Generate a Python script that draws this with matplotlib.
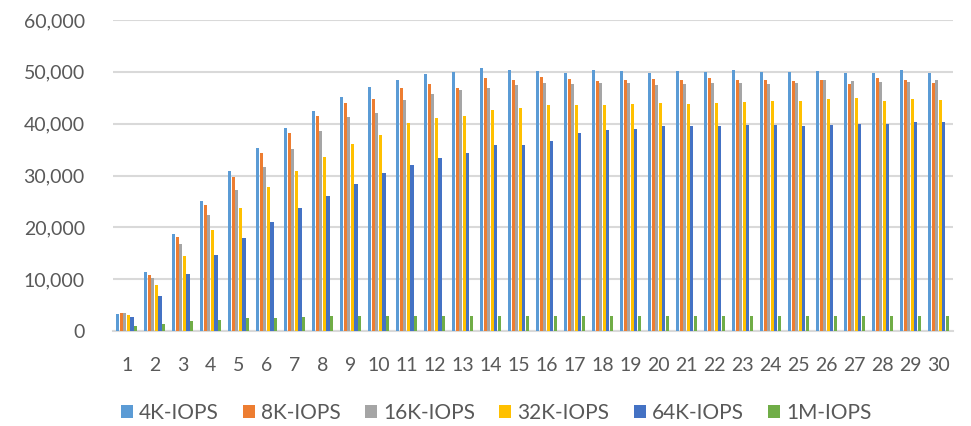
# Clustered IOPS bars per step, 6 block sizes
import numpy as np
import matplotlib.pyplot as plt
from matplotlib.ticker import FuncFormatter

plt.rcParams['font.family'] = ['Lato', 'DejaVu Sans']

steps = list(range(1, 31))
iops_4k = [3270, 11350, 18730, 25160, 30820, 35260, 39120, 42410, 45170, 47040,
           48390, 49490, 49940, 50710, 50320, 50260, 49870, 50320, 50260, 49870,
           50260, 50060, 50320, 50000, 49940, 50130, 49870, 49740, 50320, 49870]
iops_8k = [3400, 10900, 18080, 24260, 29670, 34430, 38290, 41440, 43950, 44720,
           46850, 47680, 46980, 48780, 48390, 48970, 48580, 48260, 48390, 48650,
           48520, 48780, 48520, 48520, 48260, 48520, 47680, 48780, 48520, 47880]
iops_16k = [3400, 10130, 16800, 22330, 27280, 31600, 35140, 38550, 41250, 42080,
            44530, 45690, 46590, 46850, 47550, 47810, 47680, 47810, 47880, 47550,
            47680, 47810, 47880, 47750, 47880, 48390, 48260, 48130, 48000, 48390]
iops_32k = [3080, 8790, 14540, 19560, 23810, 27730, 30950, 33530, 36160, 37840,
            40220, 41180, 41570, 42730, 43050, 43690, 43690, 43560, 43820, 43950,
            43760, 44080, 44210, 44400, 44400, 44720, 45050, 44400, 44720, 44660]
iops_64k = [2690, 6670, 10940, 14610, 18020, 20980, 23680, 26130, 28380, 30440,
            32050, 33330, 34430, 35910, 35910, 36620, 38220, 38870, 39000, 39510,
            39510, 39640, 39770, 39770, 39640, 39770, 40030, 40030, 40280, 40280]
iops_1m = [900, 1400, 1870, 2190, 2450, 2570, 2640, 2830, 2830, 2830,
           2830, 2830, 2830, 2830, 2830, 2830, 2960, 2960, 2960, 2960,
           2960, 2960, 2960, 2960, 2960, 2960, 2960, 2960, 2960, 2960]

series = [
    ("4K-IOPS", iops_4k, "#5B9BD5"),
    ("8K-IOPS", iops_8k, "#ED7D31"),
    ("16K-IOPS", iops_16k, "#A5A5A5"),
    ("32K-IOPS", iops_32k, "#FFC000"),
    ("64K-IOPS", iops_64k, "#4472C4"),
    ("1M-IOPS", iops_1m, "#70AD47"),
]

fig = plt.figure(figsize=(9.71, 4.26), dpi=100)
ax = fig.add_axes([0.116, 0.223, 0.865, 0.730])

x = np.arange(len(steps))
slot = 0.128
for i, (name, vals, col) in enumerate(series):
    ax.bar(x + (i - 2.5) * slot, vals, width=slot * 0.85, color=col, label=name, zorder=3)

ax.set_xlim(-0.5, len(steps) - 0.5)
ax.set_ylim(0, 60000)
ax.set_yticks(range(0, 60001, 10000))
ax.yaxis.set_major_formatter(FuncFormatter(lambda v, p: f"{int(v):,}"))
ax.set_xticks(x)
ax.set_xticklabels([str(s) for s in steps])

ax.grid(axis='y', color='#D9D9D9', linewidth=1.5, zorder=0)
for s in ['top', 'right', 'left']:
    ax.spines[s].set_visible(False)
ax.spines['bottom'].set_color('#D9D9D9')
ax.spines['bottom'].set_linewidth(1.5)
ax.tick_params(axis='both', length=0, labelsize=14, colors='#595959')
ax.tick_params(axis='x', pad=19)
ax.tick_params(axis='y', pad=20)

fig.legend(loc='center', bbox_to_anchor=(0.511, 0.03), ncol=6, frameon=False,
           fontsize=15, labelcolor='#595959', handlelength=0.58, handleheight=0.58,
           handletextpad=0.3, columnspacing=1.15, borderpad=0.1)

fig.savefig("out.png", dpi=100)
